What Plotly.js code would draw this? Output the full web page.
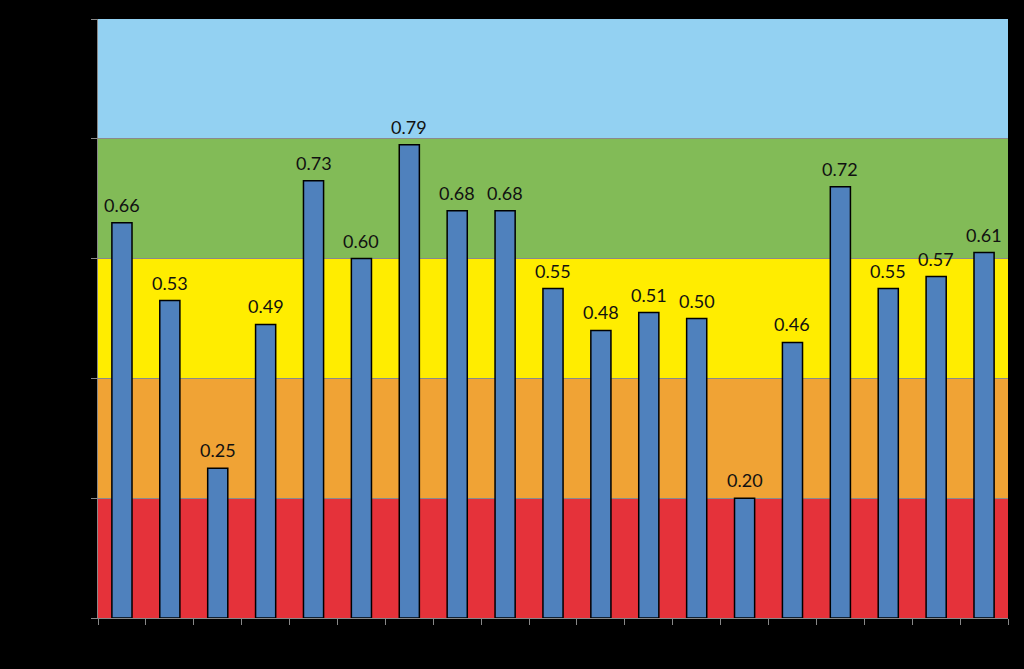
<!DOCTYPE html>
<html>
<head>
<meta charset="utf-8">
<script src="https://cdn.plot.ly/plotly-3.0.1.min.js"></script>
<style>
html,body{margin:0;padding:0;background:#000;}
#chart{width:1024px;height:669px;}
</style>
</head>
<body>
<div id="chart"></div>
<script>
var categories = ["1","2","3","4","5","6","7","8","9","10","11","12","13","14","15","16","17","18","19"];
var values = [0.66, 0.53, 0.25, 0.49, 0.73, 0.60, 0.79, 0.68, 0.68, 0.55, 0.48, 0.51, 0.50, 0.20, 0.46, 0.72, 0.55, 0.57, 0.61];
var bandEdges = [0, 0.2, 0.4, 0.6, 0.8, 1.0];
var bandColors = ["#E5323A", "#F0A335", "#FFED00", "#82BB57", "#93D1F2"];

var shapes = [];
for (var i = 0; i < bandColors.length; i++) {
  shapes.push({
    type: "rect", xref: "paper", yref: "y",
    x0: 0, x1: 1, y0: bandEdges[i], y1: bandEdges[i + 1],
    fillcolor: bandColors[i], line: {width: 0}, layer: "below"
  });
}

var annotations = categories.map(function (c, k) {
  return {
    x: k, y: values[k], xref: "x", yref: "y",
    text: values[k].toFixed(2), showarrow: false,
    yanchor: "bottom", yshift: 5,
    font: {family: "Lato, 'Noto Sans', sans-serif", size: 18, color: "#111111"}
  };
});

var trace = {
  type: "bar",
  x: categories,
  y: values,
  width: 0.42,
  marker: {color: "#4F81BD", line: {color: "#000000", width: 1.5}},
  hoverinfo: "none"
};

var layout = {
  width: 1024, height: 669,
  paper_bgcolor: "#000000",
  plot_bgcolor: "#000000",
  margin: {l: 98, r: 16, t: 19, b: 51},
  showlegend: false,
  shapes: shapes,
  annotations: annotations,
  xaxis: {
    type: "category",
    range: [-0.5, categories.length - 0.5],
    showline: true, linecolor: "#888888", linewidth: 1,
    ticks: "outside", tickson: "boundaries", ticklen: 6, tickcolor: "#888888",
    tickfont: {color: "#000000", size: 14},
    showgrid: false, zeroline: false, fixedrange: true
  },
  yaxis: {
    range: [0, 1], dtick: 0.2, tick0: 0,
    showline: true, linecolor: "#888888", linewidth: 1,
    ticks: "outside", ticklen: 6, tickcolor: "#888888",
    tickfont: {color: "#000000", size: 14},
    showgrid: true, gridcolor: "#8a8a8a", gridwidth: 1,
    zeroline: false, fixedrange: true
  }
};

Plotly.newPlot("chart", [trace], layout, {staticPlot: true, displayModeBar: false});
</script>
</body>
</html>
